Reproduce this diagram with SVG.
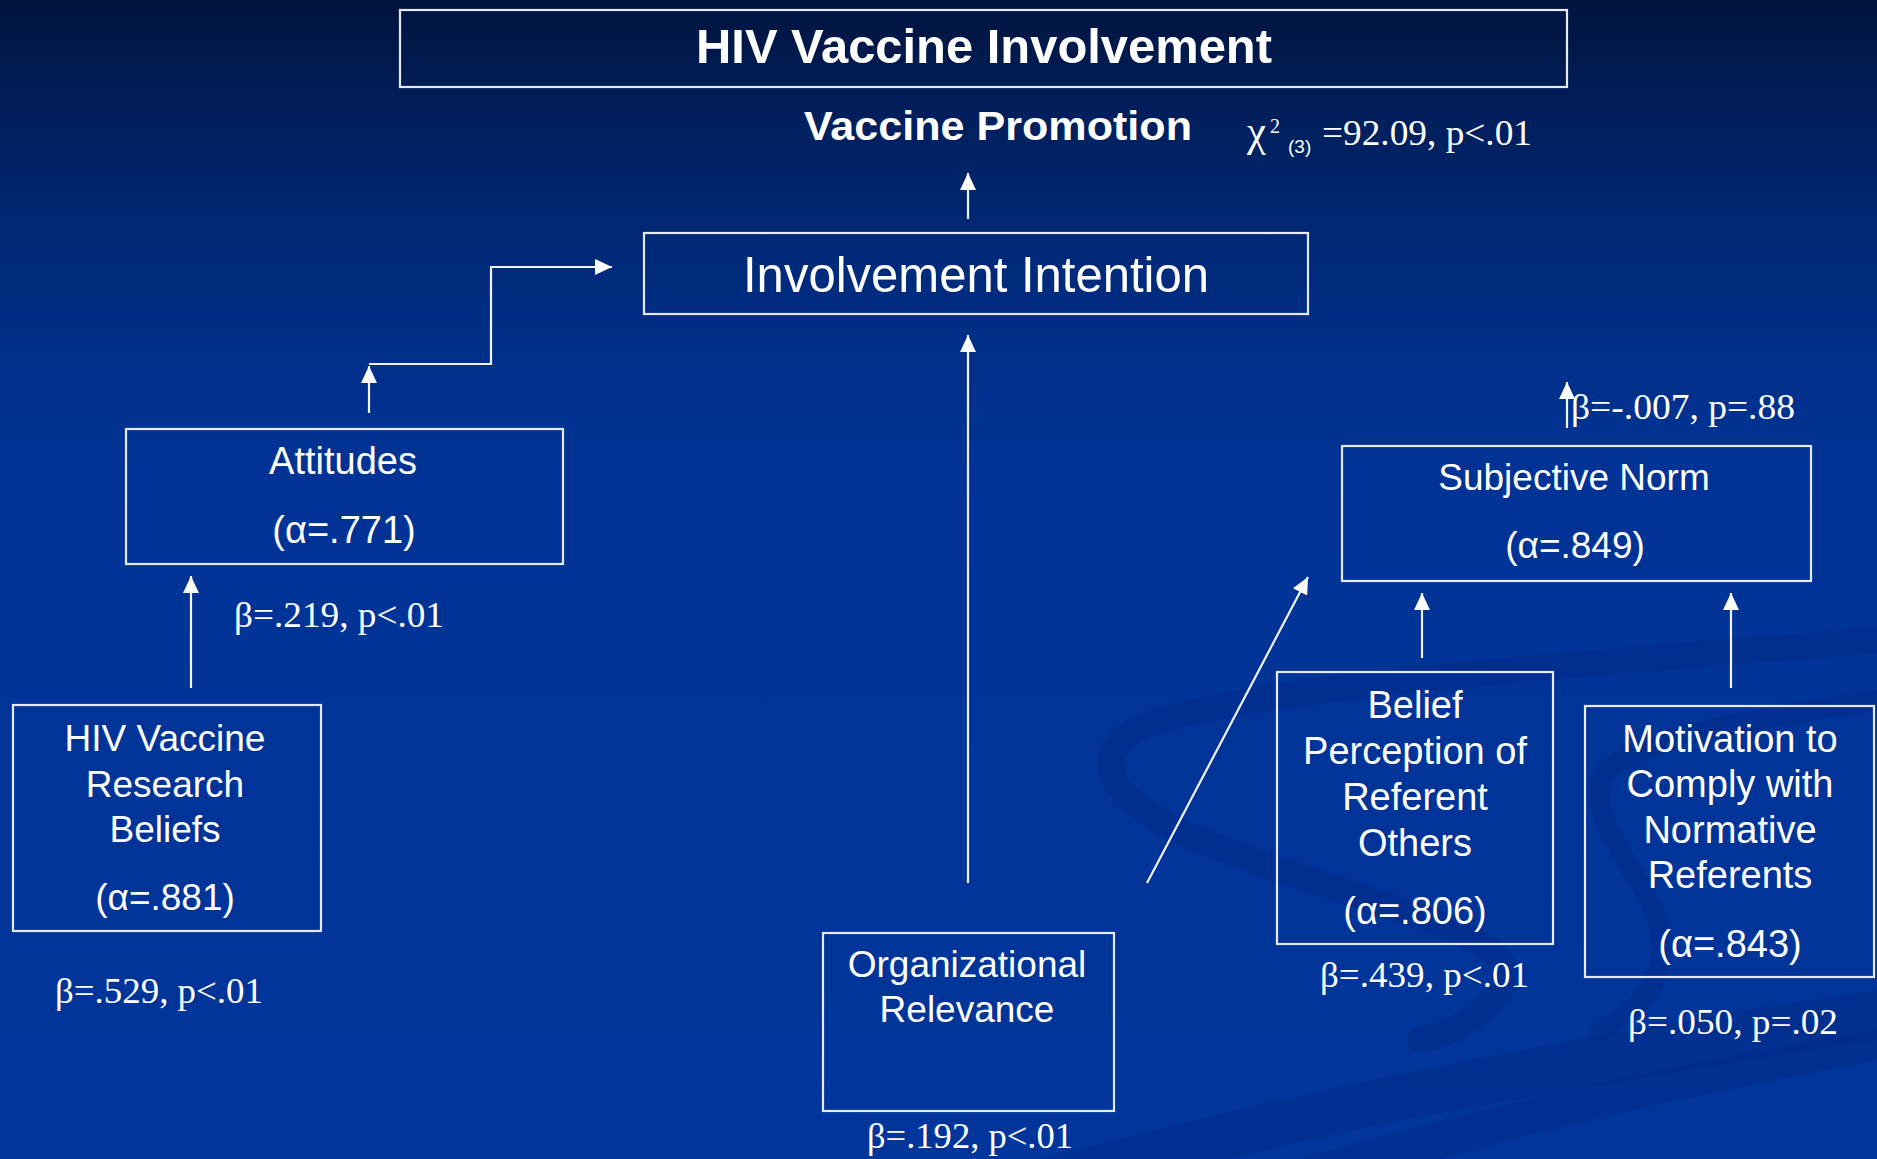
<svg xmlns="http://www.w3.org/2000/svg" width="1877" height="1159" viewBox="0 0 1877 1159">
  <defs>
    <linearGradient id="bg" x1="0" y1="0" x2="0" y2="1">
      <stop offset="0" stop-color="#00143e"/>
      <stop offset="0.1" stop-color="#001f5c"/>
      <stop offset="0.2" stop-color="#002874"/>
      <stop offset="0.3" stop-color="#002f88"/>
      <stop offset="0.4" stop-color="#003395"/>
      <stop offset="1" stop-color="#00359b"/>
    </linearGradient>
    <marker id="ah" markerUnits="userSpaceOnUse" markerWidth="18" markerHeight="16" refX="17" refY="8" orient="auto">
      <path d="M0,0 L17,8 L0,16 Z" fill="#ffffff"/>
    </marker>
    <style>
      .box { fill: none; stroke: #e6eaf4; stroke-width: 2.2; }
      .lbl { font-family: "Liberation Sans", Arial, sans-serif; fill: #ffffff; text-anchor: middle; }
      .stat { font-family: "Liberation Serif", "Times New Roman", serif; fill: #ffffff; }
      .conn { stroke: #f2f4fa; stroke-width: 2.2; fill: none; marker-end: url(#ah); }
      .swoosh { fill: none; stroke: #002b86; stroke-linecap: round; opacity: 0.45; }
    </style>
  </defs>

  <rect x="0" y="0" width="1877" height="1159" fill="url(#bg)"/>

  <g id="background-swoosh">
    <path class="swoosh" stroke-width="26" d="M 1877 640 C 1650 660 1300 680 1160 720 C 1080 745 1100 800 1200 840 C 1320 890 1470 920 1500 960 C 1520 990 1470 1030 1420 1040"/>
    <path class="swoosh" stroke-width="20" d="M 1877 700 C 1750 720 1620 740 1600 780 C 1590 830 1650 880 1660 930 C 1670 980 1640 1010 1600 1030"/>
    <path fill="#002b86" opacity="0.45" d="M 1040 1159 C 1300 1090 1600 1030 1877 990 L 1877 1040 C 1620 1080 1380 1120 1230 1159 Z"/>
    <path fill="#002b86" opacity="0.45" d="M 1300 1159 C 1500 1100 1700 1060 1877 1030 L 1877 1060 C 1720 1090 1560 1125 1440 1159 Z"/>
  </g>

  <g id="connectors">
    <line class="conn" x1="968" y1="219" x2="968" y2="173"/>
    <line class="conn" x1="369" y1="413" x2="369" y2="366"/>
    <polyline class="conn" points="369,364 491,364 491,267 612,267"/>
    <line class="conn" x1="968" y1="883" x2="968" y2="335"/>
    <line class="conn" x1="191" y1="688" x2="191" y2="576"/>
    <line class="conn" x1="1567" y1="428" x2="1567" y2="382"/>
    <line class="conn" x1="1147" y1="883" x2="1308" y2="577"/>
    <line class="conn" x1="1422" y1="658" x2="1422" y2="593"/>
    <line class="conn" x1="1731" y1="688" x2="1731" y2="593"/>
  </g>

  <g id="title">
    <rect class="box" x="400" y="10" width="1167" height="77"/>
    <text class="lbl" x="984" y="63" font-size="48" font-weight="bold" textLength="576" lengthAdjust="spacingAndGlyphs">HIV Vaccine Involvement</text>
  </g>

  <g id="vaccine-promotion">
    <text class="lbl" x="998" y="140" font-size="41" font-weight="bold" textLength="388" lengthAdjust="spacingAndGlyphs">Vaccine Promotion</text>
  </g>

  <g id="chi-square">
    <text class="stat" x="1247" y="146" font-size="44" textLength="19" lengthAdjust="spacingAndGlyphs">χ</text>
    <text class="stat" x="1270" y="133" font-size="20">2</text>
    <text x="1288" y="153" font-family="Liberation Sans, Arial, sans-serif" font-size="19" fill="#ffffff">(3)</text>
    <text class="stat" x="1322" y="145" font-size="36" textLength="210" lengthAdjust="spacingAndGlyphs">=92.09, p&lt;.01</text>
  </g>

  <g id="involvement-intention">
    <rect class="box" x="644" y="233" width="664" height="81"/>
    <text class="lbl" x="976" y="292" font-size="50" textLength="466" lengthAdjust="spacingAndGlyphs">Involvement Intention</text>
  </g>

  <g id="attitudes">
    <rect class="box" x="126" y="429" width="437" height="135"/>
    <text class="lbl" x="343" y="474" font-size="38">Attitudes</text>
    <text class="lbl" x="344" y="543" font-size="38">(α=.771)</text>
  </g>

  <g id="hiv-beliefs">
    <rect class="box" x="13" y="705" width="308" height="226"/>
    <text class="lbl" x="165" y="751" font-size="37">HIV Vaccine</text>
    <text class="lbl" x="165" y="797" font-size="37">Research</text>
    <text class="lbl" x="165" y="842" font-size="37">Beliefs</text>
    <text class="lbl" x="165" y="910" font-size="37">(α=.881)</text>
  </g>

  <g id="org-relevance">
    <rect class="box" x="823" y="933" width="291" height="178"/>
    <text class="lbl" x="967" y="977" font-size="37">Organizational</text>
    <text class="lbl" x="967" y="1022" font-size="37">Relevance</text>
  </g>

  <g id="subjective-norm">
    <rect class="box" x="1342" y="446" width="469" height="135"/>
    <text class="lbl" x="1574" y="490" font-size="37">Subjective Norm</text>
    <text class="lbl" x="1575" y="558" font-size="37">(α=.849)</text>
  </g>

  <g id="belief-perception">
    <rect class="box" x="1277" y="672" width="276" height="272"/>
    <text class="lbl" x="1415" y="718" font-size="38">Belief</text>
    <text class="lbl" x="1415" y="764" font-size="38">Perception of</text>
    <text class="lbl" x="1415" y="810" font-size="38">Referent</text>
    <text class="lbl" x="1415" y="856" font-size="38">Others</text>
    <text class="lbl" x="1415" y="924" font-size="38">(α=.806)</text>
  </g>

  <g id="motivation">
    <rect class="box" x="1585" y="706" width="289" height="271"/>
    <text class="lbl" x="1730" y="752" font-size="38">Motivation to</text>
    <text class="lbl" x="1730" y="797" font-size="38">Comply with</text>
    <text class="lbl" x="1730" y="843" font-size="38">Normative</text>
    <text class="lbl" x="1730" y="888" font-size="38">Referents</text>
    <text class="lbl" x="1730" y="957" font-size="38">(α=.843)</text>
  </g>

  <g id="path-stats" font-size="36">
    <text class="stat" x="234" y="627" textLength="210" lengthAdjust="spacingAndGlyphs">β=.219, p&lt;.01</text>
    <text class="stat" x="55" y="1003" textLength="208" lengthAdjust="spacingAndGlyphs">β=.529, p&lt;.01</text>
    <text class="stat" x="867" y="1148" textLength="206" lengthAdjust="spacingAndGlyphs">β=.192, p&lt;.01</text>
    <text class="stat" x="1571" y="419" textLength="224" lengthAdjust="spacingAndGlyphs">β=-.007, p=.88</text>
    <text class="stat" x="1320" y="987" textLength="209" lengthAdjust="spacingAndGlyphs">β=.439, p&lt;.01</text>
    <text class="stat" x="1628" y="1034" textLength="210" lengthAdjust="spacingAndGlyphs">β=.050, p=.02</text>
  </g>
</svg>
